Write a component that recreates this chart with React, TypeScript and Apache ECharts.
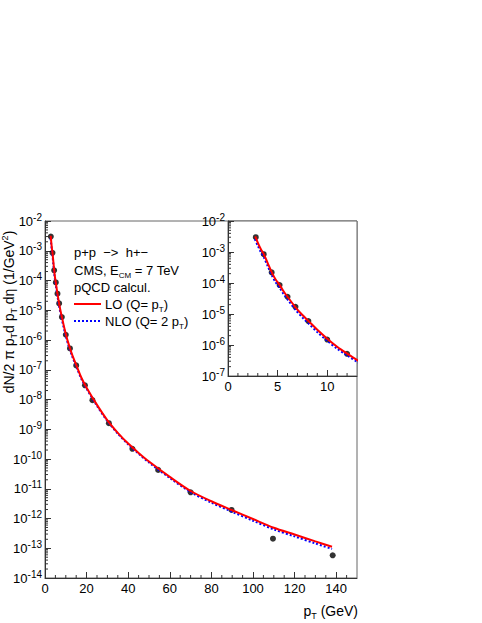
import React, { useEffect, useRef } from "react";
import * as echarts from "echarts";

// ---------- data ----------
const POINT_PT = [2.8, 3.6, 4.4, 5.2, 6.0, 6.8, 8.1, 10.0, 12.0, 15.0, 19.2, 22.8, 30.7, 42.0, 54.4, 70.0, 89.7, 109.6, 138.3];
const POINT_Y = [3.0e-3, 8.5e-4, 2.2e-4, 8.6e-5, 3.6e-5, 1.7e-5, 5.9e-6, 1.5e-6, 5.2e-7, 1.4e-7, 3.0e-8, 9.5e-9, 1.6e-9, 2.2e-10, 4.3e-11, 7.6e-12, 1.94e-12, 2.1e-13, 5.8e-14];

const LO_PT = [2.75, 3.0, 3.3, 3.6, 4.0, 4.4, 4.8, 5.2, 5.6, 6.0, 6.8, 7.5, 8.1, 9.0, 10, 11, 12, 13, 15, 17.5, 20, 25, 30, 35, 40, 45, 50, 60, 70, 80, 90, 100, 110, 120, 130, 138];
const LO_Y = [3.2e-3, 2.0e-3, 1.25e-3, 8.6e-4, 4.4e-4, 2.25e-4, 1.3e-4, 8.7e-5, 5.4e-5, 3.6e-5, 1.65e-5, 9.3e-6, 6.0e-6, 3.1e-6, 1.6e-6, 8.8e-7, 5.3e-7, 3.3e-7, 1.45e-7, 5.4e-8, 2.5e-8, 6.6e-9, 2.0e-9, 7.6e-10, 3.3e-10, 1.6e-10, 8.2e-11, 2.5e-11, 8.4e-12, 3.8e-12, 1.9e-12, 9.6e-13, 4.9e-13, 2.9e-13, 1.7e-13, 1.12e-13];

const NLO_PT = [2.7, 3.0, 3.3, 3.6, 4.0, 4.4, 4.8, 5.2, 5.6, 6.0, 6.8, 7.5, 8.1, 9.0, 10, 11, 12, 13, 15, 17.5, 20, 25, 30, 35, 40, 45, 50, 60, 70, 80, 90, 100, 110, 120, 130, 138];
const NLO_Y = [2.6e-3, 1.6e-3, 1.0e-3, 6.9e-4, 3.5e-4, 1.8e-4, 1.05e-4, 7.0e-5, 4.4e-5, 2.95e-5, 1.36e-5, 7.7e-6, 5.0e-6, 2.6e-6, 1.36e-6, 7.6e-7, 4.6e-7, 2.9e-7, 1.3e-7, 4.9e-8, 2.3e-8, 6.1e-9, 1.87e-9, 7.1e-10, 3.1e-10, 1.5e-10, 7.6e-11, 2.3e-11, 7.7e-12, 3.4e-12, 1.68e-12, 8.4e-13, 4.3e-13, 2.5e-13, 1.45e-13, 9.5e-14];

const MAIN_X_RANGE = [0, 150];
const MAIN_X_STEP = 20;
const MAIN_X_MINOR = [5, 10, 15, 25, 30, 35, 45, 50, 55, 65, 70, 75, 85, 90, 95, 105, 110, 115, 125, 130, 135, 145];
const MAIN_Y_RANGE = [1e-14, 1e-2];
const MAIN_Y_DECADES = [-14, -13, -12, -11, -10, -9, -8, -7, -6, -5, -4, -3];

const INSET_X_RANGE = [0, 13];
const INSET_X_STEP = 5;
const INSET_X_MINOR = [1, 2, 3, 4, 6, 7, 8, 9, 11, 12];
const INSET_Y_RANGE = [1e-7, 1e-2];
const INSET_Y_DECADES = [-7, -6, -5, -4, -3];

const MINOR_MULT = [2, 3, 4, 5, 6, 7, 8, 9];

const LEGEND_LINES = ["p+p  −>  h+−", "CMS, E", "pQCD calcul."];
const LO_LABEL = "LO (Q= p";
const NLO_LABEL = "NLO (Q= 2 p";

// ---------- styling ----------
const FONT = "'Liberation Sans', Arial, Helvetica, sans-serif";
const AXIS_COLOR = "#333";

const zip = (xs: number[], ys: number[]) => xs.map((x, i) => [x, ys[i]]);

const logRich = {
  b: { fontSize: 13, lineHeight: 18, fontFamily: FONT, color: "#000" },
  s: { fontSize: 10, lineHeight: 2, verticalAlign: "top", fontFamily: FONT, color: "#000" },
};
const logLabel = (v: number) => `{b|10}{s|${Math.round(Math.log10(v))}}`;

function minorY(decades: number[]) {
  const out: number[][] = [];
  decades.forEach((d) => MINOR_MULT.forEach((m) => out.push([0, m * Math.pow(10, d)])));
  return out;
}

function tickSeries(idx: number, data: number[][], dir: "x" | "y", len: number) {
  return {
    type: "custom",
    xAxisIndex: idx,
    yAxisIndex: idx,
    data,
    silent: true,
    z: 6,
    clip: false,
    encode: { x: 0, y: 1 },
    renderItem: (_p: any, api: any) => {
      const p = api.coord([api.value(0), api.value(1)]);
      const shape =
        dir === "x"
          ? { x1: p[0], y1: p[1], x2: p[0], y2: p[1] - len }
          : { x1: p[0], y1: p[1], x2: p[0] + len, y2: p[1] };
      return { type: "line", shape, style: { stroke: AXIS_COLOR, lineWidth: 1 } };
    },
  };
}

function xAxisCfg(grid: number, range: number[], step: number) {
  return {
    type: "value",
    gridIndex: grid,
    min: range[0],
    max: range[1],
    interval: step,
    axisLine: { show: true, onZero: false, lineStyle: { color: AXIS_COLOR, width: 1 } },
    axisTick: { show: true, inside: true, length: 6, lineStyle: { color: AXIS_COLOR } },
    splitLine: { show: false },
    axisLabel: { fontSize: 13, fontFamily: FONT, color: "#000", margin: 4, showMaxLabel: false, hideOverlap: false },
  };
}

function yAxisCfg(grid: number, range: number[], split: number) {
  return {
    type: "log",
    logBase: 10,
    gridIndex: grid,
    min: range[0],
    max: range[1],
    splitNumber: split,
    interval: 1,
    axisLine: { show: true, onZero: false, lineStyle: { color: AXIS_COLOR, width: 1 } },
    axisTick: { show: true, inside: true, length: 6, lineStyle: { color: AXIS_COLOR } },
    splitLine: { show: false },
    axisLabel: { formatter: logLabel, rich: logRich, margin: 3, hideOverlap: false, showMinLabel: true, showMaxLabel: true },
  };
}

function curveSeries(idx: number, xs: number[], ys: number[], color: string, dashed: boolean) {
  return {
    type: "line",
    xAxisIndex: idx,
    yAxisIndex: idx,
    data: zip(xs, ys),
    smooth: 0.3,
    showSymbol: false,
    symbol: "none",
    clip: true,
    z: dashed ? 3 : 4,
    lineStyle: dashed ? { color, width: 2, type: [2, 2] } : { color, width: 2 },
  };
}

function pointSeries(idx: number) {
  return {
    type: "scatter",
    xAxisIndex: idx,
    yAxisIndex: idx,
    data: zip(POINT_PT, POINT_Y),
    symbol: "circle",
    symbolSize: 6,
    clip: true,
    z: 2,
    itemStyle: { color: "#000" },
  };
}

const txt = (n: number, c = "#000") => ({ fontSize: n, fontFamily: FONT, color: c });

const option: any = {
  animation: false,
  backgroundColor: "#fff",
  grid: [
    { left: 45, top: 221, width: 312, height: 357, show: true, borderColor: "#666", borderWidth: 1, backgroundColor: "transparent" },
    { left: 228, top: 221, width: 129, height: 155, show: true, borderColor: "#666", borderWidth: 1, backgroundColor: "#fff" },
  ],
  xAxis: [xAxisCfg(0, MAIN_X_RANGE, MAIN_X_STEP), xAxisCfg(1, INSET_X_RANGE, INSET_X_STEP)],
  yAxis: [yAxisCfg(0, MAIN_Y_RANGE, 12), yAxisCfg(1, INSET_Y_RANGE, 5)],
  series: [
    pointSeries(0),
    curveSeries(0, NLO_PT, NLO_Y, "#0000ff", true),
    curveSeries(0, LO_PT, LO_Y, "#ff0000", false),
    tickSeries(0, MAIN_X_MINOR.map((x) => [x, MAIN_Y_RANGE[0]]), "x", 3),
    tickSeries(0, minorY(MAIN_Y_DECADES), "y", 3),
    pointSeries(1),
    curveSeries(1, NLO_PT, NLO_Y, "#0000ff", true),
    curveSeries(1, LO_PT, LO_Y, "#ff0000", false),
    tickSeries(1, INSET_X_MINOR.map((x) => [x, INSET_Y_RANGE[0]]), "x", 3),
    tickSeries(1, minorY(INSET_Y_DECADES), "y", 3),
  ],
  graphic: [
    {
      type: "text",
      x: 9,
      y: 312,
      rotation: Math.PI / 2,
      style: {
        text: "{n|dN/2 π p}{t|T}{n|d p}{t|T}{n| dη (1/GeV}{u|2}{n|)}",
        align: "center",
        verticalAlign: "middle",
        rich: {
          n: { ...txt(14), lineHeight: 18 },
          t: { ...txt(9), lineHeight: 9, verticalAlign: "bottom" },
          u: { ...txt(9), lineHeight: 9, verticalAlign: "top" },
        },
      },
    },
    {
      type: "text",
      x: 358,
      y: 611,
      style: {
        text: "{n|p}{t|T}{n| (GeV)}",
        align: "right",
        verticalAlign: "middle",
        rich: {
          n: { ...txt(14), lineHeight: 18 },
          t: { ...txt(9), lineHeight: 9, verticalAlign: "bottom" },
        },
      },
    },
    { type: "text", x: 74, y: 252, style: { text: LEGEND_LINES[0], font: `13px ${FONT}`, fill: "#000", align: "left", verticalAlign: "middle" } },
    {
      type: "text",
      x: 74,
      y: 270,
      style: {
        text: `{n|${LEGEND_LINES[1]}}{t|CM}{n| = 7 TeV}`,
        align: "left",
        verticalAlign: "middle",
        rich: { n: { ...txt(13), lineHeight: 18 }, t: { ...txt(8), lineHeight: 9, verticalAlign: "bottom" } },
      },
    },
    { type: "text", x: 74, y: 287, style: { text: LEGEND_LINES[2], font: `13px ${FONT}`, fill: "#000", align: "left", verticalAlign: "middle" } },
    { type: "line", shape: { x1: 74, y1: 304, x2: 101, y2: 304 }, style: { stroke: "#ff0000", lineWidth: 2 } },
    {
      type: "text",
      x: 105,
      y: 304,
      style: {
        text: `{n|${LO_LABEL}}{t|T}{n|)}`,
        align: "left",
        verticalAlign: "middle",
        rich: { n: { ...txt(13), lineHeight: 18 }, t: { ...txt(8), lineHeight: 9, verticalAlign: "bottom" } },
      },
    },
    { type: "line", shape: { x1: 74, y1: 321, x2: 101, y2: 321 }, style: { stroke: "#0000ff", lineWidth: 2, lineDash: [2, 2] } },
    {
      type: "text",
      x: 105,
      y: 321,
      style: {
        text: `{n|${NLO_LABEL}}{t|T}{n|)}`,
        align: "left",
        verticalAlign: "middle",
        rich: { n: { ...txt(13), lineHeight: 18 }, t: { ...txt(8), lineHeight: 9, verticalAlign: "bottom" } },
      },
    },
  ],
};

export default function App() {
  const ref = useRef<HTMLDivElement>(null);
  useEffect(() => {
    document.body.style.margin = "0";
    const chart = echarts.init(ref.current!, null, { renderer: "svg" });
    chart.setOption(option);
    return () => chart.dispose();
  }, []);
  return <div ref={ref} style={{ width: 482, height: 623, background: "#fff" }} />;
}
